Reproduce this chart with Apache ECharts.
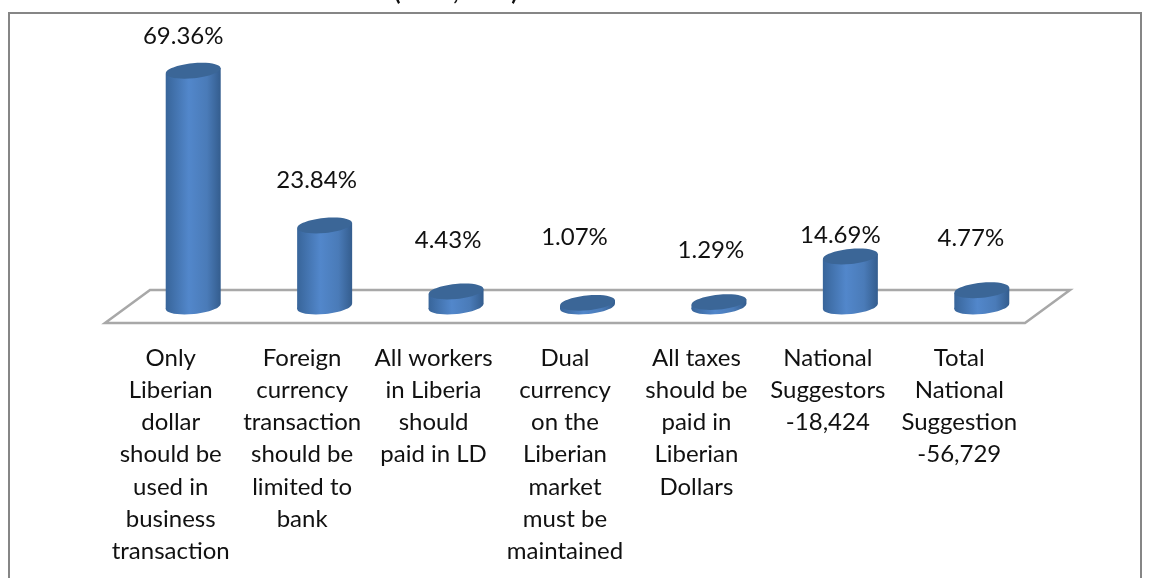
<!DOCTYPE html>
<html><head><meta charset="utf-8">
<style>html,body{margin:0;padding:0;background:#fff}#c{width:1152px;height:578px}</style>
<script src="https://cdn.jsdelivr.net/npm/echarts@6/dist/echarts.min.js"></script>
</head><body><div id="c"></div>
<script>
const categories = [
  "Only\nLiberian\ndollar\nshould be\nused in\nbusiness\ntransaction",
  "Foreign\ncurrency\ntransaction\nshould be\nlimited to\nbank",
  "All workers\nin Liberia\nshould\npaid in LD",
  "Dual\ncurrency\non the\nLiberian\nmarket\nmust be\nmaintained",
  "All taxes\nshould be\npaid in\nLiberian\nDollars",
  "National\nSuggestors\n-18,424",
  "Total\nNational\nSuggestion\n-56,729"
];
const values = [69.36, 23.84, 4.43, 1.07, 1.29, 14.69, 4.77];
const labelNudgeX = [10, 8, 8, 13, 8, 10, 11];
const labelGapY = [34, 45, 51, 66, 52, 21, 52];

const DEPTH_X = 45, DEPTH_Y = 33, FONT = 'Lato, "Open Sans", sans-serif';
const chart = echarts.init(document.getElementById('c'));

function cylinder(params, api) {
  const i = api.value(0), v = api.value(1);
  const base = api.coord([i, 0]), top = api.coord([i, v]);
  const dx = DEPTH_X / 2, dy = DEPTH_Y / 2;
  const cx = base[0] + dx, by = base[1] - dy, ty = top[1] - dy;
  const rx = 27.5, ry = 7.5, rot = 0.1, tilt = rx * Math.sin(rot);
  const grad = new echarts.graphic.LinearGradient(0, 0, 1, 0, [
    {offset: 0, color: '#38659a'}, {offset: 0.42, color: '#5287cb'},
    {offset: 0.75, color: '#4a7bb8'}, {offset: 1, color: '#345d8e'}
  ]);
  return {
    type: 'group',
    children: [
      {type: 'ellipse', originX: cx, originY: by, rotation: rot,
        shape: {cx: cx, cy: by, rx: rx, ry: ry}, style: {fill: grad}},
      {type: 'polygon', shape: {points: [
          [cx - rx, ty + tilt], [cx + rx, ty - tilt], [cx + rx, by - tilt], [cx - rx, by + tilt]
        ]}, style: {fill: grad}},
      {type: 'ellipse', originX: cx, originY: ty, rotation: rot,
        shape: {cx: cx, cy: ty, rx: rx, ry: ry}, style: {fill: '#3b6697'}},
      {type: 'text', style: {
        x: cx - labelNudgeX[i], y: ty - labelGapY[i],
        text: v.toFixed(2) + '%', font: '24px ' + FONT, fill: '#111',
        align: 'center', verticalAlign: 'middle'}}
    ]
  };
}

function floor(params) {
  const c = params.coordSys, b = c.y + c.height;
  const pts = [[c.x, b], [c.x + c.width, b], [c.x + c.width + DEPTH_X, b - DEPTH_Y], [c.x + DEPTH_X, b - DEPTH_Y]];
  return {type: 'polygon', shape: {points: pts},
    style: {fill: '#fff', stroke: '#a8a8a8', lineWidth: 2.5}};
}

chart.setOption({
  animation: false,
  backgroundColor: '#fff',
  title: {text: '(         ,         )', left: 389, top: -25, textStyle: {fontFamily: FONT, fontSize: 24, fontWeight: 'bold', color: '#111'}},
  graphic: [{type: 'rect', silent: true, z: -1,
    shape: {x: 9, y: 13, width: 1132, height: 600},
    style: {fill: 'none', stroke: '#868686', lineWidth: 2}}],
  grid: {left: 105, width: 920, top: 85, bottom: 255, containLabel: false},
  xAxis: {type: 'category', data: categories,
    axisLine: {show: false}, axisTick: {show: false}, splitLine: {show: false},
    axisLabel: {interval: 0, margin: 19, fontFamily: FONT, fontSize: 24, lineHeight: 32.2, color: '#111'}},
  yAxis: {type: 'value', min: 0, max: 70, show: false},
  series: [
    {type: 'custom', silent: true, renderItem: floor, data: [0], z: 1, clip: false},
    {type: 'custom', silent: true, renderItem: cylinder, z: 2, clip: false,
      encode: {x: 0, y: 1},
      data: values.map((v, i) => [i, v])}
  ]
});
</script></body></html>
